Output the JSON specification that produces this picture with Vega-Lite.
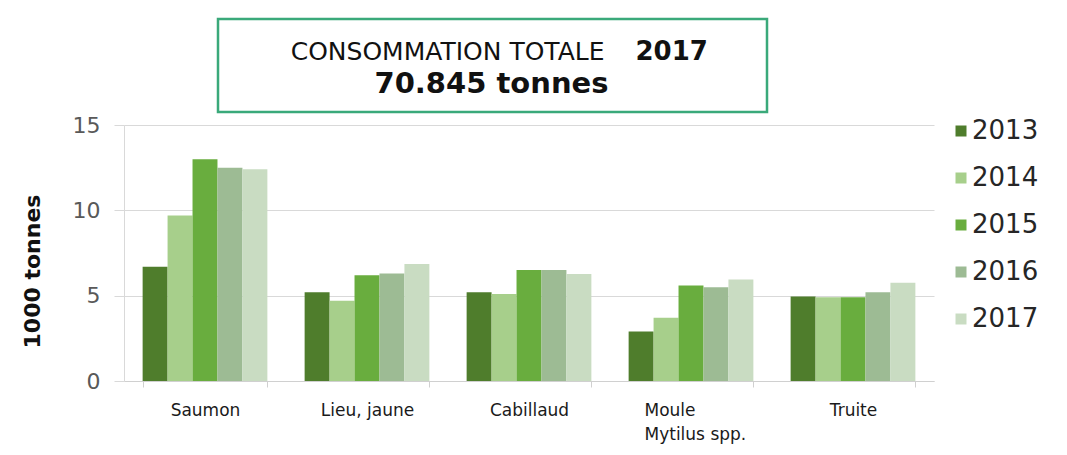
{
  "$schema": "https://vega.github.io/schema/vega-lite/v6.json",
  "padding": {"left": 21, "top": 17, "right": 5, "bottom": 5},
  "background": "white",
  "config": {"view": {"stroke": null}, "font": "DejaVu Sans"},
  "spacing": 0,
  "resolve": {"legend": {"color": "independent"}},
  "vconcat": [
    {
      "spacing": 0,
      "hconcat": [
        {
          "width": 92,
          "height": 93,
          "data": {"values": [{"t": ""}]},
          "mark": {"type": "text"},
          "encoding": {"text": {"field": "t"}}
        },
        {
          "width": 549,
          "height": 93,
          "view": {"stroke": "#3aa97a", "strokeWidth": 2.5},
          "layer": [
            {
              "data": {"values": [{"t": "CONSOMMATION TOTALE"}]},
              "mark": {"type": "text", "align": "right", "baseline": "middle", "dx": 112, "dy": -14, "fontSize": 25, "font": "DejaVu Sans", "color": "#111111"},
              "encoding": {"text": {"field": "t"}}
            },
            {
              "data": {"values": [{"t": "2017"}]},
              "mark": {"type": "text", "align": "left", "baseline": "middle", "dx": 143, "dy": -14, "fontSize": 26, "fontWeight": "bold", "font": "DejaVu Sans", "color": "#111111"},
              "encoding": {"text": {"field": "t"}}
            },
            {
              "data": {"values": [{"t": "70.845 tonnes"}]},
              "mark": {"type": "text", "align": "center", "baseline": "middle", "dx": -1, "dy": 18, "fontSize": 29, "fontWeight": "bold", "font": "DejaVu Sans", "color": "#111111"},
              "encoding": {"text": {"field": "t"}}
            }
          ]
        }
      ]
    },
    {
      "width": 810,
      "height": 256,
      "data": {
        "values": [
          {"espece": "Saumon", "annee": "2013", "valeur": 6.7},
          {"espece": "Saumon", "annee": "2014", "valeur": 9.7},
          {"espece": "Saumon", "annee": "2015", "valeur": 13.0},
          {"espece": "Saumon", "annee": "2016", "valeur": 12.5},
          {"espece": "Saumon", "annee": "2017", "valeur": 12.4},
          {"espece": "Lieu, jaune", "annee": "2013", "valeur": 5.2},
          {"espece": "Lieu, jaune", "annee": "2014", "valeur": 4.7},
          {"espece": "Lieu, jaune", "annee": "2015", "valeur": 6.2},
          {"espece": "Lieu, jaune", "annee": "2016", "valeur": 6.3},
          {"espece": "Lieu, jaune", "annee": "2017", "valeur": 6.85},
          {"espece": "Cabillaud", "annee": "2013", "valeur": 5.2},
          {"espece": "Cabillaud", "annee": "2014", "valeur": 5.1},
          {"espece": "Cabillaud", "annee": "2015", "valeur": 6.5},
          {"espece": "Cabillaud", "annee": "2016", "valeur": 6.5},
          {"espece": "Cabillaud", "annee": "2017", "valeur": 6.27},
          {"espece": "Moule Mytilus spp.", "annee": "2013", "valeur": 2.9},
          {"espece": "Moule Mytilus spp.", "annee": "2014", "valeur": 3.7},
          {"espece": "Moule Mytilus spp.", "annee": "2015", "valeur": 5.6},
          {"espece": "Moule Mytilus spp.", "annee": "2016", "valeur": 5.5},
          {"espece": "Moule Mytilus spp.", "annee": "2017", "valeur": 5.95},
          {"espece": "Truite", "annee": "2013", "valeur": 4.95},
          {"espece": "Truite", "annee": "2014", "valeur": 4.9},
          {"espece": "Truite", "annee": "2015", "valeur": 4.9},
          {"espece": "Truite", "annee": "2016", "valeur": 5.2},
          {"espece": "Truite", "annee": "2017", "valeur": 5.75}
        ]
      },
      "mark": {"type": "bar"},
      "encoding": {
        "x": {
          "field": "espece",
          "type": "nominal",
          "sort": ["Saumon", "Lieu, jaune", "Cabillaud", "Moule Mytilus spp.", "Truite"],
          "scale": {"paddingInner": 0.23, "paddingOuter": 0.115},
          "axis": {
            "title": null,
            "labelAngle": 0,
            "labelFontSize": 17,
            "labelFont": "DejaVu Sans",
            "labelColor": "#1a1a1a",
            "labelPadding": 15,
            "labelLineHeight": 24,
            "labelExpr": "datum.value == 'Moule Mytilus spp.' ? ['Moule', 'Mytilus spp.'] : datum.label",
            "labelAlign": {"condition": {"test": "datum.value == 'Moule Mytilus spp.'", "value": "left"}, "value": "center"},
            "labelOffset": {"condition": {"test": "datum.value == 'Moule Mytilus spp.'", "value": -47}, "value": 0},
            "tickBand": "extent",
            "tickSize": 6,
            "tickColor": "#d0d0d0",
            "domainColor": "#d0d0d0",
            "grid": false
          }
        },
        "xOffset": {
          "field": "annee",
          "type": "nominal",
          "scale": {"paddingInner": 0, "paddingOuter": 0}
        },
        "y": {
          "field": "valeur",
          "type": "quantitative",
          "scale": {"domain": [0, 15]},
          "axis": {
            "title": "1000 tonnes",
            "titleFontSize": 22,
            "titleFontWeight": "bold",
            "titleColor": "#111111",
            "titleFont": "DejaVu Sans",
            "titlePadding": 28,
            "titleY": 146,
            "values": [0, 5, 10, 15],
            "labelFontSize": 22,
            "labelColor": "#595959",
            "labelPadding": 14,
            "tickSize": 10,
            "tickColor": "#d9d9d9",
            "domainColor": "#d9d9d9",
            "gridColor": "#d9d9d9"
          }
        },
        "color": {
          "field": "annee",
          "type": "nominal",
          "scale": {
            "domain": ["2013", "2014", "2015", "2016", "2017"],
            "range": ["#4f7d2c", "#a7cf8b", "#69ad3e", "#9dbb94", "#c9dcc2"]
          },
          "legend": {
            "title": null,
            "orient": "none",
            "legendX": 824,
            "legendY": -7,
            "symbolType": "square",
            "symbolSize": 121,
            "symbolStrokeWidth": 0,
            "labelFontSize": 26,
            "labelFont": "DejaVu Sans",
            "labelColor": "#262626",
            "labelOffset": -2,
            "rowPadding": 21
          }
        }
      }
    }
  ]
}
